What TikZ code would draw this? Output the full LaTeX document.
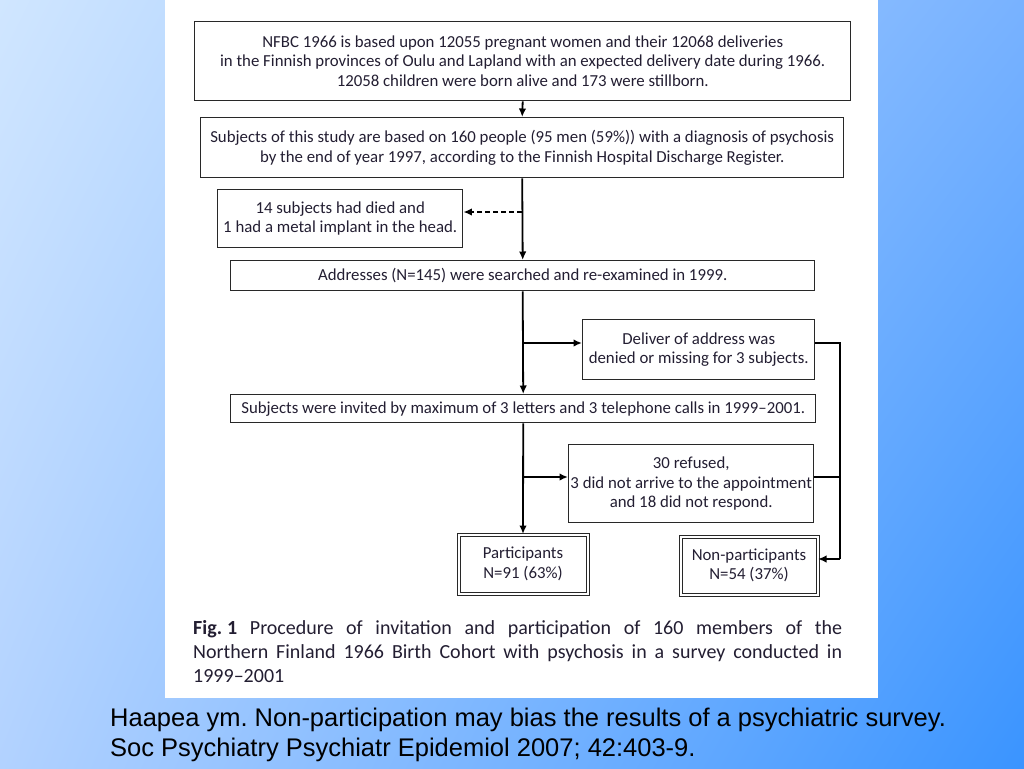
\documentclass[tikz,border=0pt]{standalone}
\usepackage{fontspec}
\setmainfont{Carlito}
\newfontfamily\citefont{Liberation Sans}
\usetikzlibrary{arrows.meta,shadings}
\definecolor{bgUL}{RGB}{208,230,255}
\definecolor{bgLL}{RGB}{178,210,255}
\definecolor{bgUR}{RGB}{120,178,255}
\definecolor{bgLR}{RGB}{58,148,255}
\definecolor{boxline}{RGB}{40,40,40}
\definecolor{txt}{RGB}{35,30,50}
\frenchspacing
\begin{document}
\begin{tikzpicture}[x=1pt,y=-1pt,
  box/.style={draw=boxline, line width=1.4pt, rectangle, anchor=north west, inner sep=0pt,
    align=center, font=\fontsize{16.8}{19.5}\selectfont, text=txt},
  dbox/.style={box, double=white, double distance=2pt, line width=1pt},
  conn/.style={line width=1.8pt, black},
  arr/.style={conn, -{Latex[length=8.5pt,width=7.5pt]}}]
\useasboundingbox (0,0) rectangle (1024,768);
\shade[upper left=bgUL, lower left=bgLL, upper right=bgUR, lower right=bgLR] (0,0) rectangle (1024,768);
\fill[white] (165,0) rectangle (878,698);

\node[box, minimum width=656pt, minimum height=79pt] (b1) at (194,21)
 {NFBC 1966 is based upon 12055 pregnant women and their 12068 deliveries\\
  in the Finnish provinces of Oulu and Lapland with an expected delivery date during 1966.\\
  12058 children were born alive and 173 were stillborn.};
\node[box, minimum width=643pt, minimum height=60pt] (b2) at (200,117)
 {Subjects of this study are based on 160 people (95 men (59\%)) with a diagnosis of psychosis\\
  by the end of year 1997, according to the Finnish Hospital Discharge Register.};
\node[box, minimum width=245pt, minimum height=58pt] (died) at (217,189)
 {14 subjects had died and\\ 1 had a metal implant in the head.};
\node[box, minimum width=584pt, minimum height=30pt] (b3) at (230,260)
 {Addresses (N=145) were searched and re-examined in 1999.};
\node[box, minimum width=232pt, minimum height=60pt] (deliv) at (582,319)
 {Deliver of address was\\ denied or missing for 3 subjects.};
\node[box, minimum width=585pt, minimum height=28pt] (b4) at (230,394)
 {Subjects were invited by maximum of 3 letters and 3 telephone calls in 1999–2001.};
\node[box, minimum width=245pt, minimum height=78pt] (refu) at (568,444)
 {30 refused,\\ 3 did not arrive to the appointment\\ and 18 did not respond.};
\node[dbox, minimum width=129pt, minimum height=59pt] (part) at (458,534)
 {Participants\\ N=91 (63\%)};
\node[dbox, minimum width=137pt, minimum height=58pt] (nonp) at (680,536)
 {Non-participants\\ N=54 (37\%)};

\coordinate (jd) at (522,212);
\coordinate (j1) at (522,343);
\coordinate (j2) at (522,477);
\coordinate (r1) at (840,343);
\coordinate (r2) at (840,477);
\coordinate (r3) at (840,559);

\draw[arr] (b1.south) -- (b2.north);
\draw[arr] (b2.south) -- (b3.north);
\draw[arr, dashed, dash pattern=on 5pt off 3pt] (jd) -- (died.east |- jd);
\draw[arr] (b3.south) -- (b4.north);
\draw[arr] (j1) -- (deliv.west |- j1);
\draw[arr] (b4.south) -- (part.north);
\draw[arr] (j2) -- (refu.west |- j2);
\draw[conn] (deliv.east |- r1) -- (r1) -- (r3);
\draw[arr] (r3) -- (nonp.east |- r3);
\draw[conn] (refu.east |- r2) -- (r2);

\node[anchor=north west, inner sep=0pt, align=left, text=txt,
  font=\fontsize{20}{24}\selectfont] (cap) at (193,620)
 {\makebox[649pt][s]{\textbf{\mbox{Fig.\kern0.25em1}} Procedure of invitation and participation of 160 members of the}\\
  \makebox[649pt][s]{Northern Finland 1966 Birth Cohort with psychosis in a survey conducted in}\\
  1999–2001};

\node[anchor=north west, inner sep=0pt, align=left, font=\citefont\fontsize{25.5}{30}\selectfont] (cite) at (110,708)
 {Haapea ym. Non-participation may bias the results of a psychiatric survey.\\
  Soc Psychiatry Psychiatr Epidemiol 2007; 42:403-9.};
\end{tikzpicture}
\end{document}
